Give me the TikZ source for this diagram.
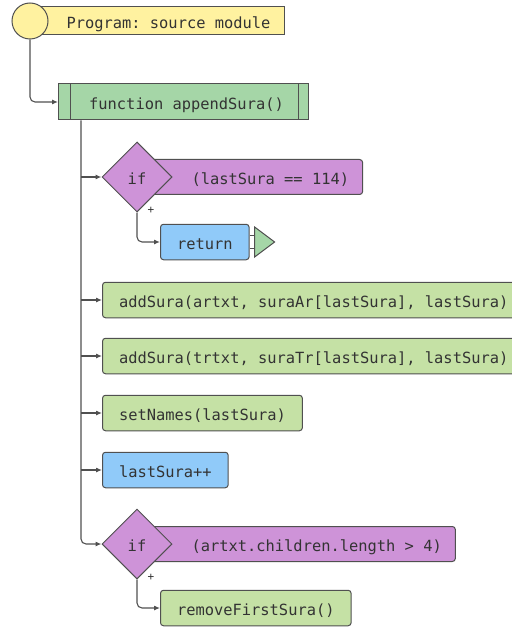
\documentclass[tikz,border=0pt]{standalone}
\usepackage{fontspec}
\setmonofont{DejaVu Sans Mono}
\usetikzlibrary{arrows.meta,calc,shapes.geometric}

\definecolor{progyellow}{RGB}{255,242,160}
\definecolor{fngreen}{RGB}{165,214,167}
\definecolor{stmtgreen}{RGB}{197,225,165}
\definecolor{stmtblue}{RGB}{144,202,249}
\definecolor{condpurple}{RGB}{206,147,216}
\definecolor{edgegray}{RGB}{80,80,80}
\definecolor{ink}{RGB}{51,51,51}

\tikzset{
  base/.style={draw=edgegray, line width=1pt, text=ink,
    font=\fontsize{15.4}{18}\selectfont\ttfamily, text height=15pt, text depth=0.8pt},
  stmt/.style={base, rounded corners=3pt, fill=stmtgreen, anchor=west,
    inner xsep=16.5pt, inner ysep=0pt, minimum height=35.5pt},
  stmtb/.style={stmt, fill=stmtblue},
  cond/.style={base, rounded corners=3pt, fill=condpurple, anchor=west,
    inner xsep=13.5pt, inner ysep=0pt, minimum height=35pt},
  test/.style={base, diamond, fill=condpurple, inner sep=0pt,
    minimum width=70pt, minimum height=70pt},
  conn/.style={draw=edgegray, line width=1.1pt, -{Latex[length=6pt,width=5pt]}},
  plus/.style={text=ink, font=\fontsize{11}{12}\selectfont\ttfamily, inner sep=0pt}
}

\begin{document}
\begin{tikzpicture}[x=1pt, y=-1pt]
  \useasboundingbox (0,0) rectangle (511,628);
  % program and function head
  \node[base, fill=progyellow, anchor=west, inner xsep=14pt, inner ysep=0pt, minimum height=28pt]
    (prog) at (30,21) {\hspace{22pt}Program: source module};
  \node[base, circle, fill=progyellow, minimum size=36pt, inner sep=0pt] (start) at (30,21) {};
  \node[base, fill=fngreen, anchor=west, minimum width=250pt, minimum height=36pt, inner sep=0pt]
    (fn) at (58,102) {\hspace{6pt}function appendSura()};
  \draw[edgegray, line width=1pt] ([xshift=12pt]fn.north west) -- ([xshift=12pt]fn.south west)
    ([xshift=-11pt]fn.north east) -- ([xshift=-11pt]fn.south east);
  \draw[conn, rounded corners=5pt] (start.south) |- (fn.west);

  % first test
  \node[cond] (cond1) at (137,177) {\hspace{40.5pt}(lastSura == 114)};
  \node[test] (if1) at (137,177) {if};
  \node[plus] (plus1) at ([xshift=14pt,yshift=2pt]if1.south) {+};
  \node[stmtb] (ret) at (160,242) {return};
  \draw[conn, rounded corners=5pt] (if1.south) |- (ret.west);
  \draw[edgegray, line width=1pt] ([yshift=7pt]ret.east) -- ++(5,0)
    ([yshift=-6pt]ret.east) -- ++(5,0);
  \draw[edgegray, line width=1pt, fill=fngreen] ([xshift=5pt,yshift=15pt]ret.east)
    -- ++(20,15) -- ++(-20,15) -- cycle;

  % statements
  \node[stmt] (add1) at (102,300) {addSura(artxt, suraAr[lastSura], lastSura)};
  \node[stmt] (add2) at (102,356) {addSura(trtxt, suraTr[lastSura], lastSura)};
  \node[stmt] (setn) at (102,413) {setNames(lastSura)};
  \node[stmtb] (inc) at (102,470) {lastSura++};

  % second test
  \node[cond] (cond2) at (137,544) {\hspace{40.5pt}(artxt.children.length > 4)};
  \node[test] (if2) at (137,544) {if};
  \node[plus] (plus2) at ([xshift=14pt,yshift=2pt]if2.south) {+};
  \node[stmt] (rm) at (160,608) {removeFirstSura()};
  \draw[conn, rounded corners=5pt] (if2.south) |- (rm.west);

  % trunk of the body
  \coordinate (trunk) at ([xshift=23pt]fn.south west);
  \draw[conn, rounded corners=5pt] (trunk) |- (if2.west);
  \foreach \n in {if1,add1,add2,setn,inc}
    \draw[conn] (trunk |- \n.west) -- (\n.west);
\end{tikzpicture}
\end{document}
